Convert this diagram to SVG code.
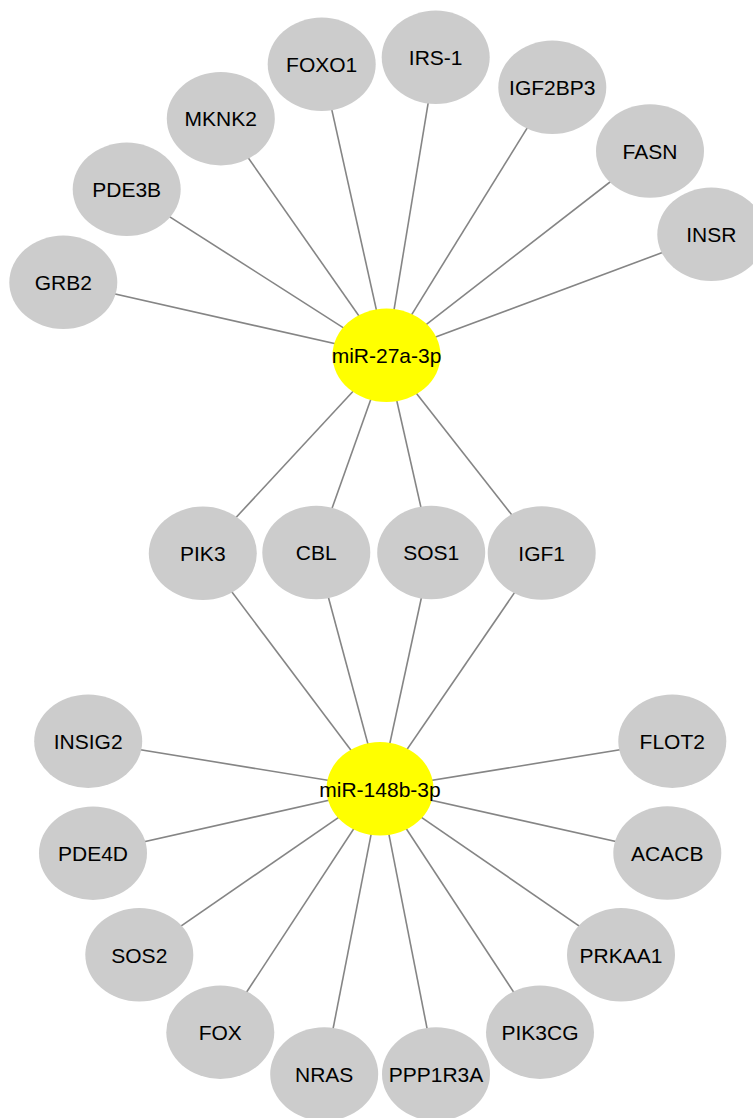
<svg xmlns="http://www.w3.org/2000/svg" width="753" height="1118" viewBox="0 0 753 1118">
<style>
.e{stroke:#858585;stroke-width:1.6;fill:none}
.n ellipse{fill:#cccccc}
.h ellipse{fill:#ffff00}
text{font-family:"Liberation Sans",Arial,sans-serif;font-size:21px;fill:#000;text-anchor:middle}
</style>
<rect width="753" height="1118" fill="#ffffff"/>
<g id="connectors">
<line class="e" x1="386.5" y1="355.3" x2="63.3" y2="282.3"/>
<line class="e" x1="386.5" y1="355.3" x2="126.7" y2="189.3"/>
<line class="e" x1="386.5" y1="355.3" x2="220.8" y2="118.7"/>
<line class="e" x1="386.5" y1="355.3" x2="321.7" y2="64.3"/>
<line class="e" x1="386.5" y1="355.3" x2="435.7" y2="57.3"/>
<line class="e" x1="386.5" y1="355.3" x2="552.3" y2="87.3"/>
<line class="e" x1="386.5" y1="355.3" x2="650" y2="151"/>
<line class="e" x1="386.5" y1="355.3" x2="711.3" y2="234.3"/>
<line class="e" x1="386.5" y1="355.3" x2="202.8" y2="553.3"/>
<line class="e" x1="386.5" y1="355.3" x2="316.3" y2="552.5"/>
<line class="e" x1="386.5" y1="355.3" x2="431.2" y2="552.5"/>
<line class="e" x1="386.5" y1="355.3" x2="541.7" y2="553"/>
<line class="e" x1="380" y1="788.8" x2="202.8" y2="553.3"/>
<line class="e" x1="380" y1="788.8" x2="316.3" y2="552.5"/>
<line class="e" x1="380" y1="788.8" x2="431.2" y2="552.5"/>
<line class="e" x1="380" y1="788.8" x2="541.7" y2="553"/>
<line class="e" x1="380" y1="788.8" x2="88.2" y2="741.2"/>
<line class="e" x1="380" y1="788.8" x2="93" y2="853.2"/>
<line class="e" x1="380" y1="788.8" x2="139.3" y2="954.8"/>
<line class="e" x1="380" y1="788.8" x2="220.3" y2="1032.2"/>
<line class="e" x1="380" y1="788.8" x2="324.2" y2="1074"/>
<line class="e" x1="380" y1="788.8" x2="436" y2="1074"/>
<line class="e" x1="380" y1="788.8" x2="540" y2="1032.2"/>
<line class="e" x1="380" y1="788.8" x2="621" y2="954.8"/>
<line class="e" x1="380" y1="788.8" x2="667.3" y2="853"/>
<line class="e" x1="380" y1="788.8" x2="672.3" y2="741.2"/>
</g>
<g id="GRB2" class="n"><ellipse cx="63.3" cy="282.3" rx="54" ry="46.7"/><text x="63.3" y="290">GRB2</text></g>
<g id="PDE3B" class="n"><ellipse cx="126.7" cy="189.3" rx="54" ry="46.7"/><text x="126.7" y="197">PDE3B</text></g>
<g id="MKNK2" class="n"><ellipse cx="220.8" cy="118.7" rx="54" ry="46.7"/><text x="220.8" y="126.4">MKNK2</text></g>
<g id="FOXO1" class="n"><ellipse cx="321.7" cy="64.3" rx="54" ry="46.7"/><text x="321.7" y="72">FOXO1</text></g>
<g id="IRS-1" class="n"><ellipse cx="435.7" cy="57.3" rx="54" ry="46.7"/><text x="435.7" y="65">IRS-1</text></g>
<g id="IGF2BP3" class="n"><ellipse cx="552.3" cy="87.3" rx="54" ry="46.7"/><text x="552.3" y="95">IGF2BP3</text></g>
<g id="FASN" class="n"><ellipse cx="650" cy="151" rx="54" ry="46.7"/><text x="650" y="158.7">FASN</text></g>
<g id="INSR" class="n"><ellipse cx="711.3" cy="234.3" rx="54" ry="46.7"/><text x="711.3" y="242">INSR</text></g>
<g id="miR-27a-3p" class="h"><ellipse cx="386.5" cy="355.3" rx="54" ry="46.7"/><text x="386.5" y="363">miR-27a-3p</text></g>
<g id="PIK3" class="n"><ellipse cx="202.8" cy="553.3" rx="54" ry="46.7"/><text x="202.8" y="561">PIK3</text></g>
<g id="CBL" class="n"><ellipse cx="316.3" cy="552.5" rx="54" ry="46.7"/><text x="316.3" y="560.2">CBL</text></g>
<g id="SOS1" class="n"><ellipse cx="431.2" cy="552.5" rx="54" ry="46.7"/><text x="431.2" y="560.2">SOS1</text></g>
<g id="IGF1" class="n"><ellipse cx="541.7" cy="553" rx="54" ry="46.7"/><text x="541.7" y="560.7">IGF1</text></g>
<g id="miR-148b-3p" class="h"><ellipse cx="380" cy="788.8" rx="53.5" ry="46.7"/><text x="380" y="796.5">miR-148b-3p</text></g>
<g id="INSIG2" class="n"><ellipse cx="88.2" cy="741.2" rx="54" ry="46.7"/><text x="88.2" y="748.9">INSIG2</text></g>
<g id="PDE4D" class="n"><ellipse cx="93" cy="853.2" rx="54" ry="46.7"/><text x="93" y="860.9">PDE4D</text></g>
<g id="SOS2" class="n"><ellipse cx="139.3" cy="954.8" rx="54" ry="46.7"/><text x="139.3" y="962.5">SOS2</text></g>
<g id="FOX" class="n"><ellipse cx="220.3" cy="1032.2" rx="54" ry="46.7"/><text x="220.3" y="1039.9">FOX</text></g>
<g id="NRAS" class="n"><ellipse cx="324.2" cy="1074" rx="54" ry="46.7"/><text x="324.2" y="1081.7">NRAS</text></g>
<g id="PPP1R3A" class="n"><ellipse cx="436" cy="1074" rx="54" ry="46.7"/><text x="436" y="1081.7">PPP1R3A</text></g>
<g id="PIK3CG" class="n"><ellipse cx="540" cy="1032.2" rx="54" ry="46.7"/><text x="540" y="1039.9">PIK3CG</text></g>
<g id="PRKAA1" class="n"><ellipse cx="621" cy="954.8" rx="54" ry="46.7"/><text x="621" y="962.5">PRKAA1</text></g>
<g id="ACACB" class="n"><ellipse cx="667.3" cy="853" rx="54" ry="46.7"/><text x="667.3" y="860.7">ACACB</text></g>
<g id="FLOT2" class="n"><ellipse cx="672.3" cy="741.2" rx="54" ry="46.7"/><text x="672.3" y="748.9">FLOT2</text></g>
</svg>
